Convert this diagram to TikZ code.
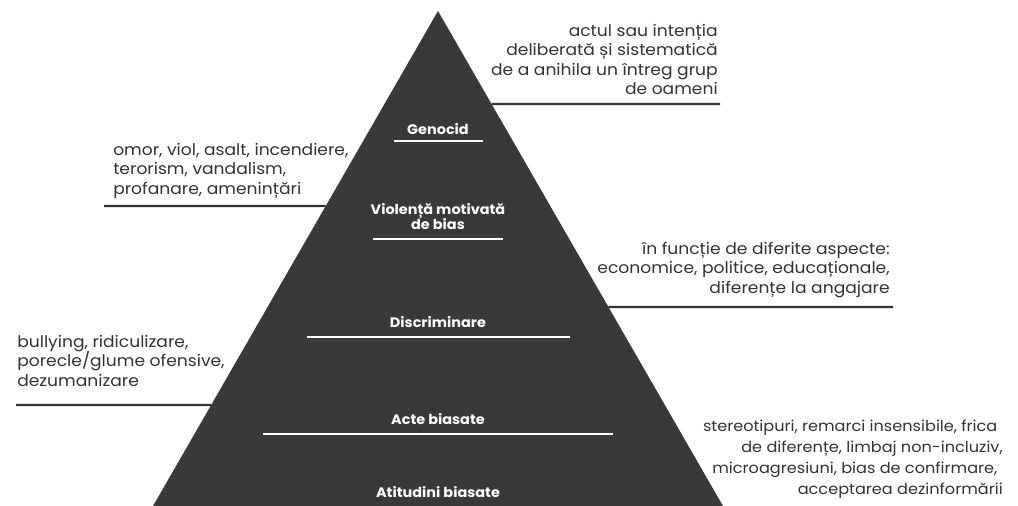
\documentclass[tikz,border=0pt]{standalone}
\usepackage{fontspec}
\setmainfont{Poppins}
\newfontfamily\descfont[FakeStretch=1.07]{Poppins}
\newfontfamily\lvlfont[FakeStretch=1.05]{Poppins}
\usetikzlibrary{calc}
\definecolor{pyr}{HTML}{393939}
\definecolor{ink}{HTML}{333333}
\begin{document}
\begin{tikzpicture}[x=0.75pt,y=-0.75pt,
  desc/.style={font=\descfont\fontsize{12}{14.6}\selectfont, text=ink, inner sep=0pt},
  lvl/.style={font=\lvlfont\fontsize{10.3}{11.3}\selectfont\bfseries, text=white, inner sep=0pt, align=center},
  rule/.style={draw=ink, line width=1.6pt},
  wrule/.style={draw=white, line width=1pt}]
\useasboundingbox[fill=white] (0,0) rectangle (1018,506);
% pyramid
\coordinate (apex) at (438,11);
\coordinate (bl) at (153,506);
\coordinate (br) at (723,506);
\fill[pyr] (apex) -- (bl) -- (br) -- cycle;
% edge points
\coordinate (gE) at ($(apex)!0.1879!(br)$);
\coordinate (gR) at (720,104);
\coordinate (vE) at ($(apex)!0.394!(bl)$);
\coordinate (vL) at (104,206);
\coordinate (dE) at ($(apex)!0.598!(br)$);
\coordinate (dR) at (893,307);
\coordinate (aE) at ($(apex)!0.796!(bl)$);
\coordinate (aL) at (16,405);
\draw[rule] (gE) -- (gR);
\draw[rule] (vL) -- (vE);
\draw[rule] (dE) -- (dR);
\draw[rule] (aL) -- (aE);
% level labels
\node[lvl, anchor=base] (gen) at (438,135) {Genocid};
\coordinate (gen1) at (394,141); \coordinate (gen2) at (483,141);
\draw[wrule] (gen1) -- (gen2);
\node[lvl, anchor=base] (vio1) at (438,215) {Violență motivată};
\node[lvl, anchor=base] (vio2) at (438,230) {de bias};
\coordinate (vio3) at (373,239); \coordinate (vio4) at (503,239);
\draw[wrule] (vio3) -- (vio4);
\node[lvl, anchor=base] (dis) at (438,327) {Discriminare};
\coordinate (dis1) at (307,337); \coordinate (dis2) at (570,337);
\draw[wrule] (dis1) -- (dis2);
\node[lvl, anchor=base] (act) at (438,424) {Acte biasate};
\coordinate (act1) at (263,434); \coordinate (act2) at (613,434);
\draw[wrule] (act1) -- (act2);
\node[lvl, anchor=base] (ati) at (438,497) {Atitudini biasate};
% descriptions
\node[desc, align=right, anchor=north east] (dg) at (718,24)
  {actul sau intenția\\deliberată și sistematică\\de a anihila un întreg grup\\de oameni};
\node[desc, align=left, anchor=north west] (dv) at (113,143)
  {omor, viol, asalt, incendiere,\\terorism, vandalism,\\profanare, amenințări};
\node[desc, align=right, anchor=north east] (dd) at (890,242)
  {în funcție de diferite aspecte:\\economice, politice, educaționale,\\diferențe la angajare};
\node[desc, align=left, anchor=north west] (da) at (17,335)
  {bullying, ridiculizare,\\porecle/glume ofensive,\\dezumanizare};
\node[desc, align=right, anchor=north east, font=\descfont\fontsize{11.3}{15.8}\selectfont] (dt) at (1003,420)
  {stereotipuri, remarci insensibile, frica\kern4pt\\de diferențe, limbaj non-incluziv,\\microagresiuni, bias de confirmare,\kern4pt\\acceptarea dezinformării};
\end{tikzpicture}
\end{document}
